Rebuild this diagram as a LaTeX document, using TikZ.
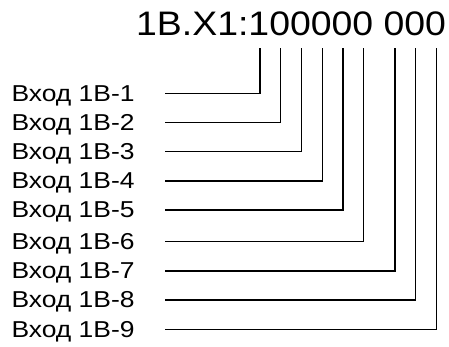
\documentclass[tikz,border=0pt]{standalone}
\usepackage{fontspec}
\setmainfont{Liberation Sans}
\newfontfamily\titlefont[FakeStretch=1.1]{Liberation Sans}
\newfontfamily\labelfont[FakeStretch=1.15]{Liberation Sans}
\begin{document}
\begin{tikzpicture}[x=1pt, y=1pt]
\tikzset{
    provod/.style={-, line width=1.3pt, black},
    vhod/.style={anchor=base west, inner sep=0pt,
                 font=\labelfont\fontsize{23}{23}\selectfont},
    zagolovok/.style={anchor=base west, inner sep=0pt,
                 font=\titlefont\fontsize{34}{34}\selectfont}
}
\useasboundingbox (0,0) rectangle (449,347);
\node[zagolovok] (zag) at (136,311) {1B.X1:100000 000};
% points under the digits
\coordinate (d1) at (260,  299);
\coordinate (d2) at (280.7,299);
\coordinate (d3) at (301.7,299);
\coordinate (d4) at (322.3,299);
\coordinate (d5) at (343,  299);
\coordinate (d6) at (363.7,299);
\coordinate (d7) at (395,  299);
\coordinate (d8) at (415.7,299);
\coordinate (d9) at (436.7,299);
% inputs
\node[vhod] (v1) at (11.3,245.7) {Вход 1В-1};
\node[vhod] (v2) at (11.3,216.7) {Вход 1В-2};
\node[vhod] (v3) at (11.3,187.3) {Вход 1В-3};
\node[vhod] (v4) at (11.3,158)   {Вход 1В-4};
\node[vhod] (v5) at (11.3,129)   {Вход 1В-5};
\node[vhod] (v6) at (11.3,97.3)  {Вход 1В-6};
\node[vhod] (v7) at (11.3,68)    {Вход 1В-7};
\node[vhod] (v8) at (11.3,39)    {Вход 1В-8};
\node[vhod] (v9) at (11.3,9.7)   {Вход 1В-9};
\draw[provod] ([xshift=30.5pt, yshift=8pt]v1.base east) -| (d1);
\draw[provod] ([xshift=30.5pt, yshift=8pt]v2.base east) -| (d2);
\draw[provod] ([xshift=30.5pt, yshift=8pt]v3.base east) -| (d3);
\draw[provod] ([xshift=30.5pt, yshift=8pt]v4.base east) -| (d4);
\draw[provod] ([xshift=30.5pt, yshift=8pt]v5.base east) -| (d5);
\draw[provod] ([xshift=30.5pt, yshift=8pt]v6.base east) -| (d6);
\draw[provod] ([xshift=30.5pt, yshift=8pt]v7.base east) -| (d7);
\draw[provod] ([xshift=30.5pt, yshift=8pt]v8.base east) -| (d8);
\draw[provod] ([xshift=30.5pt, yshift=8pt]v9.base east) -| (d9);
\end{tikzpicture}
\end{document}
